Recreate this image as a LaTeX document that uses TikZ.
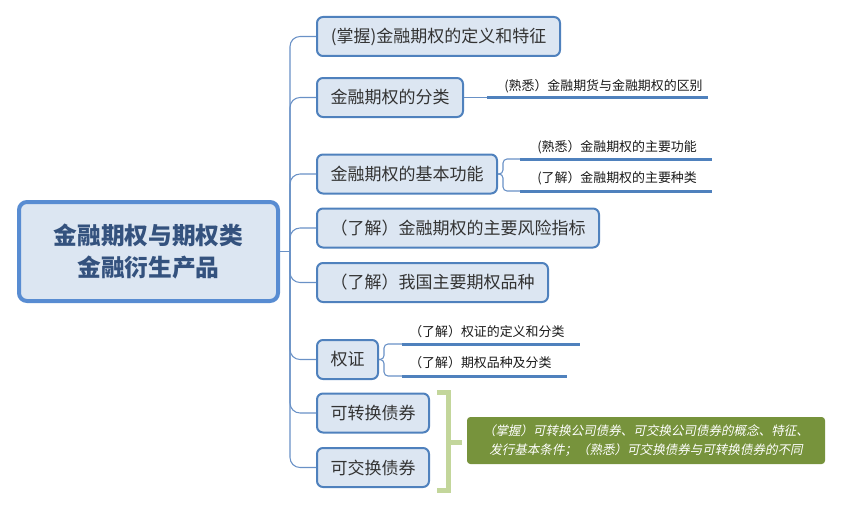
\documentclass[tikz,border=0pt]{standalone}
\usepackage{fontspec}
\setmainfont{Noto Sans CJK SC}
\newfontfamily\cjkit[FakeSlant=0.2]{Noto Sans CJK SC}
\usetikzlibrary{positioning}
\definecolor{topicfill}{RGB}{220,230,242}
\definecolor{topicline}{RGB}{79,129,189}
\definecolor{rootline}{RGB}{88,140,210}
\definecolor{spine}{RGB}{105,145,198}
\definecolor{roottext}{RGB}{52,82,126}
\definecolor{bracketgreen}{RGB}{195,214,155}
\definecolor{notegreen}{RGB}{119,147,60}

\begin{document}
\begin{tikzpicture}[x=0.75pt, y=-0.75pt,
  roottopic/.style={draw=rootline, fill=topicfill, line width=3pt, rounded corners=6pt, minimum width=194.25pt, minimum height=74.25pt, align=center, text=roottext, font=\fontsize{17.8pt}{24pt}\selectfont\bfseries},
  topic/.style={draw=topicline, fill=topicfill, line width=1.5pt, rounded corners=4.5pt, anchor=west, minimum height=29.25pt, inner sep=0pt, text=black!80, font=\fontsize{12.75pt}{15pt}\selectfont},
  subtopic/.style={anchor=west, inner sep=0pt, text=black!90, font=\fontsize{9.7pt}{12pt}\selectfont},
  branch/.style={draw=spine, line width=0.8pt, rounded corners=7.5pt},
  uline/.style={draw=topicline, line width=2.25pt},
  bracket/.style={draw=bracketgreen, line width=3.75pt},
  note/.style={fill=notegreen, rounded corners=2.5pt, minimum width=268.5pt, minimum height=35.25pt, align=center, text=white, font=\fontsize{9.4pt}{14.25pt}\cjkit}]
\useasboundingbox (0,0) rectangle (841,510);

\node[roottopic] (root) at (148.5,251.5) {金融期权与期权类\\金融衍生产品};
\node[topic, minimum width=182.25pt] (t1) at (316,36.5) {(掌握)金融期权的定义和特征};
\node[topic, minimum width=109.5pt] (t2) at (316,97.5) {金融期权的分类};
\node[topic, minimum width=135pt] (t3) at (316,174) {金融期权的基本功能};
\node[topic, minimum width=211.5pt] (t4) at (316,228) {（了解）金融期权的主要风险指标};
\node[topic, minimum width=173.25pt] (t5) at (316,282.5) {（了解）我国主要期权品种};
\node[topic, minimum width=45.75pt] (t6) at (316,359.5) {权证};
\node[topic, minimum width=84pt] (t7) at (316,413) {可转换债券};
\node[topic, minimum width=84pt] (t8) at (316,467.5) {可交换债券};

\coordinate (hub) at (290,251.5);
\draw[branch] (root.east) -- (hub);
\foreach \t in {t1,t2,t3,t4,t5,t6,t7,t8}
  \draw[branch] (hub) |- (\t.west);

\coordinate (s2a) at (487,97.5);
\coordinate (s2b) at (708,97.5);
\draw[branch] (t2.east) -- (s2a);
\draw[uline] (s2a) -- (s2b);
\node[subtopic] (s2) at (504,86) {(熟悉）金融期货与金融期权的区别};

\coordinate (s31a) at (520,159);
\coordinate (s31b) at (712,159);
\coordinate (s32a) at (520,191);
\coordinate (s32b) at (712,191);
\draw[branch, rounded corners=3pt] (t3.east) -- ++(5,0) |- (s31a);
\draw[branch, rounded corners=3pt] (t3.east) -- ++(5,0) |- (s32a);
\draw[uline] (s31a) -- (s31b);
\draw[uline] (s32a) -- (s32b);
\node[subtopic] (s31) at (537,147) {(熟悉）金融期权的主要功能};
\node[subtopic] (s32) at (537,178) {(了解）金融期权的主要种类};

\coordinate (s61a) at (402,344);
\coordinate (s61b) at (580,344);
\coordinate (s62a) at (402,376);
\coordinate (s62b) at (567,376);
\draw[branch, rounded corners=3pt] (t6.east) -- ++(5,0) |- (s61a);
\draw[branch, rounded corners=3pt] (t6.east) -- ++(5,0) |- (s62a);
\draw[uline] (s61a) -- (s61b);
\draw[uline] (s62a) -- (s62b);
\node[subtopic] (s61) at (409,332) {（了解）权证的定义和分类};
\node[subtopic] (s62) at (409,363) {（了解）期权品种及分类};

\draw[bracket] (437,392) -- (448,392) -- (448,490) -- (437,490);
\coordinate (brk) at (448,442);
\coordinate (brkend) at (462,442);
\draw[bracket] (brk) -- (brkend);
\node[note] (note) at (646,440.5) {（掌握）可转换公司债券、可交换公司债券的概念、特征、\\发行基本条件；（熟悉）可交换债券与可转换债券的不同};
\end{tikzpicture}
\end{document}
